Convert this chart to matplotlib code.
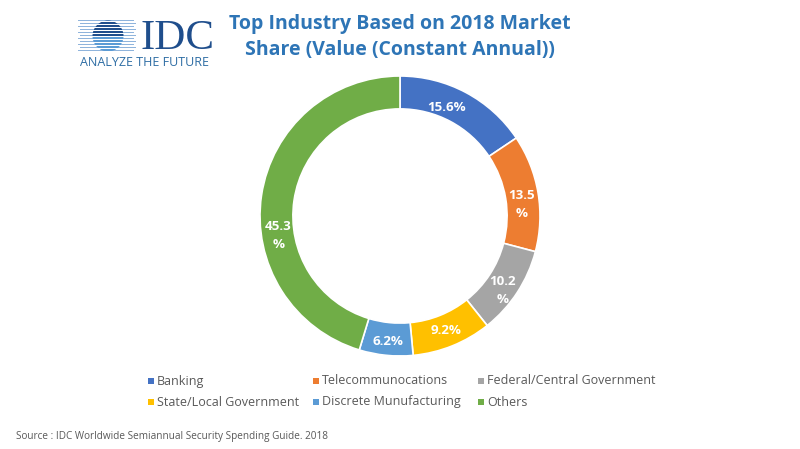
import matplotlib.pyplot as plt
import numpy as np
from matplotlib.patches import Circle, Rectangle

categories = ["Banking", "Telecommunocations", "Federal/Central Government",
              "State/Local Government", "Discrete Munufacturing", "Others"]
shares = [15.6, 13.5, 10.2, 9.2, 6.2, 45.3]
labels = ["15.6%", "13.5\n%", "10.2\n%", "9.2%", "6.2%", "45.3\n%"]
colors = ["#4472c4", "#ed7d31", "#a5a5a5", "#ffc000", "#5b9bd5", "#70ad47"]

plt.rcParams['font.family'] = ['Open Sans', 'DejaVu Sans']

fig = plt.figure(figsize=(8, 4.49), dpi=100)

# donut
R = 140
ax = fig.add_axes([(400 - R) / 800, 1 - (216 + R) / 449, 2 * R / 800, 2 * R / 449])
wedges, _ = ax.pie(shares, colors=colors, startangle=90, counterclock=False,
                   radius=1.0, wedgeprops=dict(width=0.235, edgecolor="white", linewidth=1.2))
# Excel nudges some labels off the ring centre
nudge = [(-0.08, 0), (0, -0.06), (0, -0.05), (0, 0), (0, -0.02), (0, -0.27)]
for w, lab, (dx, dy) in zip(wedges, labels, nudge):
    mid = np.deg2rad((w.theta1 + w.theta2) / 2)
    r = 0.878
    ax.text(r * np.cos(mid) + dx, r * np.sin(mid) + dy, lab, ha="center", va="center",
            color="white", fontsize=9.6, fontweight="bold", linespacing=1.5)
ax.set_aspect("equal")
ax.set_xlim(-1, 1)
ax.set_ylim(-1, 1)
ax.axis("off")

# title
fig.text(400 / 800, 1 - 37 / 449, "Top Industry Based on 2018 Market\nShare (Value (Constant Annual))",
         ha="center", va="center", fontsize=14, fontweight="bold", color="#2e75b6", linespacing=1.35)

# logo
lax = fig.add_axes([78 / 800, 1 - 55 / 449, 60 / 800, 38 / 449])
lax.set_xlim(0, 60)
lax.set_ylim(0, 38)
lax.axis("off")
circ = Circle((30, 19), 15.5, transform=lax.transData)
for i, y in enumerate(np.arange(4, 35, 3.0)):
    c = "#1f4e8c" if y > 17 else "#5b9bd5"
    r = Rectangle((2 if i % 2 else 0, y), 56, 0.8, color="#8fb4dc", lw=0)
    lax.add_patch(r)
    r2 = Rectangle((0, y - 0.4), 60, 2.2, color=c, lw=0)
    r2.set_clip_path(circ)
    lax.add_patch(r2)
fig.text(140 / 800, 1 - 39 / 449, "IDC", ha="left", va="center", fontsize=31,
         family="Liberation Serif", color="#1f4e8c")
fig.text(145 / 800, 1 - 63 / 449, "ANALYZE THE FUTURE", ha="center", va="center",
         fontsize=9, color="#2e6da4")

# legend
col_x = [148, 313, 478]
row_y = [381, 402]
for i, (cat, col) in enumerate(zip(categories, colors)):
    x = col_x[i % 3]
    y = row_y[i // 3]
    fig.patches.append(Rectangle((x / 800, 1 - (y + 3) / 449), 6 / 800, 6 / 449,
                                 transform=fig.transFigure, color=col, lw=0))
    fig.text((x + 9) / 800, 1 - y / 449, cat, ha="left", va="center",
             fontsize=9, color="#595959")

fig.text(16 / 800, 1 - 437 / 449, "Source : IDC Worldwide Semiannual Security Spending Guide. 2018",
         ha="left", va="center", fontsize=7.2, color="#595959")

fig.savefig("out.png", dpi=100, facecolor="white")
